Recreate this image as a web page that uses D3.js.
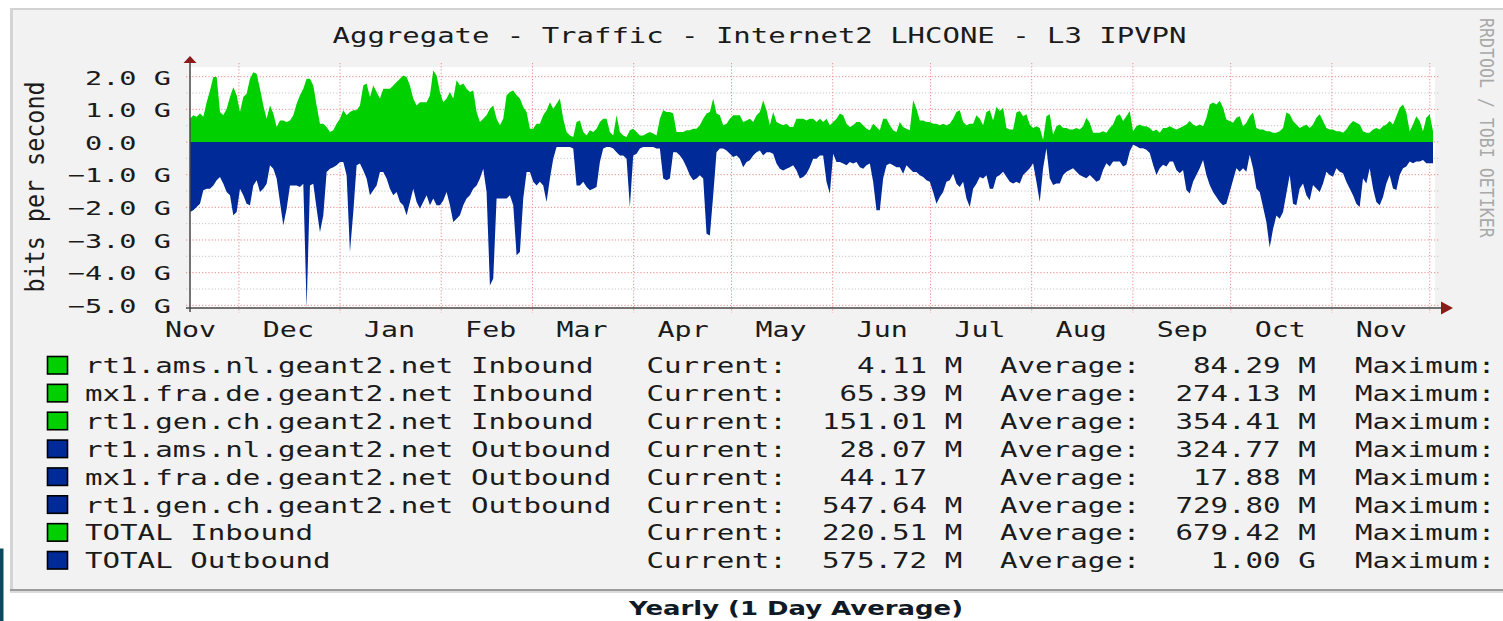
<!DOCTYPE html>
<html>
<head>
<meta charset="utf-8">
<script src="https://d3js.org/d3.v7.min.js"></script>
<style>
  body { margin: 0; background: #ffffff; }
  svg { display: block; }
  text { font-family: "DejaVu Sans Mono", monospace; fill: #1b1b1b; white-space: pre; }
</style>
</head>
<body>
<script type="text/javascript">

  var titleText = "Aggregate - Traffic - Internet2 LHCONE - L3 IPVPN";
  var yLabelText = "bits per second";
  var watermarkText = "RRDTOOL / TOBI OETIKER";
  var footerText = "Yearly (1 Day Average)";

  // y ticks in Gbit/s
  var yTicks = [2, 1, 0, -1, -2, -3, -4, -5];
  var yMinorTicks = [1.5, 0.5, -0.5, -1.5, -2.5, -3.5, -4.5];

  // time span of the yearly graph
  var timeStart = new Date(2009, 10, 16);
  var timeEnd = new Date(2010, 11, 2);

  // TOTAL inbound, Gbit/s, roughly one reading per day
  var inbound = [
    0.71,0.82,0.77,0.87,0.77,1.22,1.58,1.99,1.99,0.92,
    0.82,1.02,1.38,1.68,1.43,0.92,1.38,1.48,1.94,2.14,
    2.09,1.63,1.12,0.71,1.12,0.87,0.46,0.66,0.66,0.61,
    0.66,0.82,1.17,1.43,1.63,1.94,1.94,1.73,1.12,0.56,
    0.56,0.46,0.31,0.36,0.56,0.71,0.97,0.82,0.92,0.97,
    0.97,1.12,1.73,1.79,1.38,1.73,1.53,1.33,1.63,1.63,
    1.63,1.73,1.84,1.94,2.04,1.99,1.73,1.33,1.12,1.22,
    1.22,1.22,1.43,2.19,2.04,1.53,1.22,1.33,1.53,1.33,
    1.89,1.73,1.79,1.63,1.53,1.58,0.92,0.61,0.71,0.82,
    1.02,1.12,0.71,0.51,0.71,1.43,1.53,1.58,1.43,1.33,
    1.07,0.92,0.41,0.41,0.56,0.56,0.82,0.97,1.22,1.02,
    1.17,
    1.33,0.71,0.31,0.20,0.15,0.61,0.66,0.31,0.20,0.36,
    0.31,0.41,0.61,0.71,0.71,0.31,0.20,0.82,0.31,0.20,
    0.15,0.36,0.41,0.31,0.20,0.20,0.26,0.31,0.26,0.20,
    0.71,0.97,0.92,0.92,0.87,0.31,0.31,0.31,0.36,0.36,
    0.41,0.41,0.51,0.71,0.87,0.92,1.33,0.87,0.82,0.51,
    0.56,0.71,0.82,0.82,0.82,0.61,0.66,0.71,0.61,0.82,
    0.92,1.28,0.97,0.51,0.92,0.61,0.56,0.51,0.56,0.46,
    0.46,0.71,0.71,0.71,0.66,0.71,0.71,0.61,0.71,0.61,
    0.71,0.51,0.61,0.71,0.87,0.82,0.56,0.46,0.51,0.61,
    0.61,0.51,0.41,0.36,0.56,0.46,0.36,0.71,0.71,0.51,
    0.36,0.31,0.61,0.46,0.41,0.36,1.28,1.02,0.66,0.66,
    0.61,0.61,0.56,0.56,0.51,0.56,0.51,0.56,0.71,0.92,
    0.97,0.61,0.51,0.56,0.56,0.82,0.71,0.51,0.92,0.97,
    0.66,1.07,
    0.95,1.05,0.43,0.38,0.38,0.90,0.95,0.79,0.85,0.54,
    0.43,0.48,0.43,0.07,0.79,0.85,0.23,0.48,0.54,0.43,
    0.43,0.38,0.38,0.43,0.38,0.48,0.74,0.59,0.28,0.28,
    0.28,0.33,0.28,0.43,0.54,0.79,0.85,0.64,0.79,0.95,
    0.33,0.48,0.54,0.48,0.48,0.43,0.33,0.38,0.28,0.43,
    0.43,0.48,0.43,0.38,0.43,0.48,0.54,0.64,0.54,0.48,
    0.54,0.48,0.74,1.15,1.21,1.15,1.26,1.05,0.69,0.64,
    0.59,0.74,0.79,0.48,0.59,0.79,0.90,0.43,0.38,0.38,
    0.33,0.33,0.28,0.28,0.33,0.43,0.90,0.85,0.64,0.54,
    0.43,0.48,0.54,0.43,0.54,0.74,0.85,0.64,0.43,0.38,
    0.38,0.33,0.33,0.28,0.38,0.54,0.64,0.59,0.54,0.33,
    0.28,0.28,0.38,0.43,0.38,0.48,0.54,0.64,0.54,0.79,
    1.05,1.15,0.90,0.33,0.54,0.79,0.64,0.33,0.74,0.85,
    0.33
  ];

  // TOTAL outbound, Gbit/s (drawn below zero)
  var outbound = [
    2.14,2.09,1.99,1.89,1.48,1.43,1.43,1.33,1.17,1.07,
    1.28,1.53,1.63,2.24,2.14,1.43,1.63,1.89,1.94,1.33,
    1.17,1.53,1.43,1.28,0.71,0.82,1.12,1.84,2.55,2.04,
    1.33,1.33,1.33,1.38,1.28,5.08,1.33,1.28,2.04,2.76,
    2.24,0.92,0.82,0.77,0.71,0.61,0.61,1.02,3.37,2.14,
    0.71,0.66,0.87,1.12,1.63,1.48,1.33,0.92,0.92,1.12,
    1.43,1.63,1.53,1.84,1.94,2.24,1.84,1.43,1.84,2.04,
    1.84,1.63,1.94,1.73,1.94,1.94,1.79,1.53,1.94,2.45,
    2.35,2.24,1.94,1.73,1.63,1.43,1.33,1.12,0.82,1.53,
    4.39,4.18,1.73,1.73,1.73,1.73,1.63,1.94,3.47,3.37,
    1.73,0.92,0.92,1.22,1.33,1.22,1.33,1.84,1.12,0.51,
    0.15,
    0.15,0.15,0.15,0.15,0.20,1.33,1.33,1.22,1.38,1.48,
    1.43,1.38,0.61,0.20,0.15,0.15,0.20,0.31,0.41,0.41,
    0.51,1.99,0.41,0.36,0.20,0.15,0.15,0.15,0.15,0.20,
    0.20,1.12,1.17,1.12,0.31,0.31,0.41,0.56,0.77,1.02,
    1.17,1.12,1.02,1.12,2.81,2.86,1.63,0.31,0.20,0.20,
    0.26,0.36,0.46,0.41,0.51,0.77,0.61,0.56,0.41,0.31,
    0.26,0.41,0.31,0.31,0.36,0.66,0.82,0.87,0.82,0.77,
    0.71,0.87,1.12,1.07,0.97,0.77,0.51,0.51,0.41,0.41,
    1.22,1.58,0.36,0.61,0.61,0.66,0.71,0.61,0.66,0.61,
    0.77,0.82,0.71,0.66,1.22,2.09,2.09,1.12,0.71,0.66,
    0.71,0.77,0.77,0.97,0.71,0.82,0.92,0.92,1.02,1.07,
    1.17,1.22,1.53,1.89,1.68,1.53,1.22,1.17,0.97,1.28,
    1.38,1.22,1.73,1.99,1.43,1.28,1.07,1.12,1.02,1.43,
    1.43,1.07,
    1.01,0.91,1.06,1.22,1.27,1.22,1.27,1.01,0.91,0.80,
    0.65,1.22,1.84,0.80,0.19,1.11,1.32,1.27,1.27,1.01,
    0.91,0.86,0.80,0.91,1.01,1.06,1.11,1.01,1.11,1.22,
    1.16,0.86,0.65,0.75,0.60,0.60,0.60,0.75,0.70,0.29,
    0.08,0.13,0.19,0.19,0.24,0.34,0.70,1.01,0.80,0.70,
    0.75,0.60,0.60,0.86,0.96,0.86,1.47,1.58,1.22,1.01,
    0.80,0.55,1.01,1.32,1.53,1.68,1.84,1.94,1.89,1.53,
    1.16,0.80,0.91,0.80,0.91,0.39,0.80,1.42,1.53,1.99,
    2.45,3.23,2.66,2.25,2.35,2.14,1.58,1.01,1.89,1.94,
    1.42,1.27,1.63,1.78,1.32,1.42,1.53,1.27,0.91,1.01,
    1.06,0.80,0.91,0.96,1.22,1.42,1.63,1.89,1.99,1.11,
    1.27,0.80,1.42,1.84,1.94,1.68,1.27,1.01,1.42,1.47,
    1.01,0.80,0.75,0.60,0.65,0.60,0.60,0.55,0.65,0.65,
    0.65
  ];

  var legendNames = [
    "rt1.ams.nl.geant2.net Inbound",
    "mx1.fra.de.geant2.net Inbound",
    "rt1.gen.ch.geant2.net Inbound",
    "rt1.ams.nl.geant2.net Outbound",
    "mx1.fra.de.geant2.net Outbound",
    "rt1.gen.ch.geant2.net Outbound",
    "TOTAL Inbound",
    "TOTAL Outbound"
  ];
  var legendDirection = ["in", "in", "in", "out", "out", "out", "in", "out"];
  var currentVals  = [4.11, 65.39, 151.01, 28.07, 44.17, 547.64, 220.51, 575.72];
  var currentUnits = ["M", "M", "M", "M", "", "M", "M", "M"];
  var averageVals  = [84.29, 274.13, 354.41, 324.77, 17.88, 729.80, 679.42, 1.00];
  var averageUnits = ["M", "M", "M", "M", "M", "M", "M", "G"];

  var colors = {in: "#00cf00", out: "#002a97"};

  var config = {
    canvas: {width: 1503, height: 621},
    plot: {left: 190, right: 1435, top: 67, bottom: 308},
    legend: {top: 373.3, step: 27.86},
    mono: {size: 21, sx: 1.388}
  };

  var svg = d3.select("body").append("svg")
    .attr("width", config.canvas.width)
    .attr("height", config.canvas.height);

  var x = d3.scaleTime().domain([timeStart, timeEnd]).range([190, 1433]);
  var y = d3.scaleLinear().domain([-5, 2]).range([305.3, 76.7]);

  var n = inbound.length;
  var span = timeEnd - timeStart;
  var series = inbound.map(function(v, i) {
    return {date: new Date(+timeStart + span * i / (n - 1)), inb: v, out: outbound[i]};
  });

  function mono(g, str, tx, ty, size, sx, anchor) {
    return g.append("text")
      .attr("transform", "translate(" + tx + "," + ty + ") scale(" + sx + ",1)")
      .attr("font-size", size)
      .attr("text-anchor", anchor || "start")
      .text(str);
  }

  // frame
  svg.append("rect").attr("x", 0).attr("y", 548.5).attr("width", 3.5).attr("height", 73).attr("fill", "#0b4a5e");
  svg.append("rect").attr("x", 10).attr("y", 8).attr("width", 1500).attr("height", 583).attr("fill", "#f2f2f2");
  svg.append("line").attr("x1", 10).attr("x2", 1503).attr("y1", 9).attr("y2", 9).attr("stroke", "#d2d2d2").attr("stroke-width", 2);
  svg.append("line").attr("x1", 11.5).attr("x2", 11.5).attr("y1", 8).attr("y2", 591).attr("stroke", "#d4d4d4").attr("stroke-width", 3);
  svg.append("line").attr("x1", 10).attr("x2", 1503).attr("y1", 590).attr("y2", 590).attr("stroke", "#9c9c9c").attr("stroke-width", 2);
  svg.append("line").attr("x1", 10).attr("x2", 1503).attr("y1", 592).attr("y2", 592).attr("stroke", "#cfcfcf").attr("stroke-width", 1.5);

  var p = config.plot;
  svg.append("rect").attr("x", p.left).attr("y", p.top).attr("width", p.right - p.left).attr("height", p.bottom - p.top).attr("fill", "#ffffff");

  // grid
  var grid = svg.append("g");
  grid.selectAll(".minor").data(yMinorTicks).enter().append("line")
    .attr("x1", 186).attr("x2", 1440)
    .attr("y1", function(d) { return y(d); }).attr("y2", function(d) { return y(d); })
    .attr("stroke", "#c4c4c4").attr("stroke-width", 1).attr("stroke-dasharray", "1.2,2");
  grid.selectAll(".major").data(yTicks).enter().append("line")
    .attr("x1", 186).attr("x2", 1440)
    .attr("y1", function(d) { return y(d); }).attr("y2", function(d) { return y(d); })
    .attr("stroke", "#ef8a8a").attr("stroke-width", 1).attr("stroke-dasharray", "1.2,2");
  var monthStarts = d3.timeMonth.range(d3.timeMonth.ceil(timeStart), timeEnd);
  grid.selectAll(".vmajor").data(monthStarts).enter().append("line")
    .attr("x1", function(d) { return x(d); }).attr("x2", function(d) { return x(d); })
    .attr("y1", 63).attr("y2", 313)
    .attr("stroke", "#ef8a8a").attr("stroke-width", 1).attr("stroke-dasharray", "1.2,2");

  // areas
  svg.append("clipPath").attr("id", "plotclip").append("rect")
    .attr("x", p.left).attr("y", p.top).attr("width", p.right - p.left).attr("height", p.bottom - p.top);
  var areas = svg.append("g").attr("clip-path", "url(#plotclip)");
  areas.append("path").datum(series)
    .attr("fill", colors.in)
    .attr("d", d3.area().x(function(d) { return x(d.date); }).y0(y(0)).y1(function(d) { return y(d.inb); }));
  areas.append("path").datum(series)
    .attr("fill", colors.out)
    .attr("d", d3.area().x(function(d) { return x(d.date); }).y0(y(0)).y1(function(d) { return y(-d.out); }));

  // axes
  var yAxis = svg.append("g").attr("transform", "translate(190,0)")
    .call(d3.axisLeft(y).tickValues(yTicks).tickSize(0).tickPadding(0)
      .tickFormat(function(d) { return d === 0 ? "0.0  " : d3.format(".1f")(d) + " G"; }));
  yAxis.select(".domain").remove();
  yAxis.selectAll("text")
    .attr("x", null).attr("dy", null)
    .attr("transform", "translate(-19,7.3) scale(1.43,1)")
    .attr("font-size", 20)
    .attr("font-family", "DejaVu Sans Mono")
    .attr("fill", "#1b1b1b");

  // month labels sit in the middle of each month
  var monthMids = d3.timeMonth.range(d3.timeMonth.floor(timeStart), d3.timeMonth.floor(timeEnd))
    .map(function(d) { return d3.timeDay.offset(d, 15); });
  var xAxis = svg.append("g").attr("transform", "translate(0,308)")
    .call(d3.axisBottom(x).tickValues(monthMids).tickSize(0).tickPadding(0).tickFormat(d3.timeFormat("%b")));
  xAxis.select(".domain").remove();
  xAxis.selectAll("text")
    .attr("y", null).attr("dy", null)
    .attr("transform", "translate(0,28.7) scale(1.38,1)")
    .attr("font-size", 20.5)
    .attr("font-family", "DejaVu Sans Mono")
    .attr("fill", "#1b1b1b");

  svg.append("line").attr("x1", 186).attr("x2", 1443).attr("y1", 308).attr("y2", 308).attr("stroke", "#474747").attr("stroke-width", 1.5);
  svg.append("line").attr("x1", 190).attr("x2", 190).attr("y1", 62).attr("y2", 312).attr("stroke", "#474747").attr("stroke-width", 1.5);
  svg.append("path").attr("d", "M1441,301.5L1453,308L1441,314.5Z").attr("fill", "#8b1a1a");
  svg.append("path").attr("d", "M183.5,63L190,56L196.5,63Z").attr("fill", "#8b1a1a");

  // title, labels
  mono(svg, titleText, 759.5, 43, 22, 1.316, "middle");
  svg.append("text")
    .attr("transform", "translate(44,187) rotate(-90) scale(1,1.12)")
    .attr("font-size", 23.4).attr("text-anchor", "middle")
    .text(yLabelText);
  svg.append("text")
    .attr("transform", "translate(1480,18) rotate(90) scale(1,1.12)")
    .attr("font-size", 16.6).attr("fill", "#a9a9a9").style("fill", "#a9a9a9")
    .text(watermarkText);

  // legend
  var L = config.legend, m = config.mono;
  var lg = svg.append("g");
  legendNames.forEach(function(name, i) {
    var by = L.top + i * L.step;
    lg.append("rect").attr("x", 47.5).attr("y", by - 16.8).attr("width", 20).attr("height", 17.5)
      .attr("fill", colors[legendDirection[i]]).attr("stroke", "#000").attr("stroke-width", 1.6);
    mono(lg, name, 85, by, m.size, m.sx);
    mono(lg, "Current:" + d3.format("8.2f")(currentVals[i]) + " " + currentUnits[i], 646.5, by, m.size, m.sx);
    mono(lg, "Average:" + d3.format("8.2f")(averageVals[i]) + " " + averageUnits[i], 1000, by, m.size, m.sx);
    mono(lg, "Maximum:", 1355, by, m.size, m.sx);
  });

  svg.append("text")
    .attr("x", 796).attr("y", 615)
    .attr("text-anchor", "middle")
    .attr("font-family", "DejaVu Sans").attr("font-weight", "bold")
    .style("font-family", "DejaVu Sans")
    .attr("font-size", 20).attr("textLength", 334).attr("lengthAdjust", "spacingAndGlyphs")
    .style("fill", "#101a26")
    .text(footerText);

</script>
</body>
</html>
